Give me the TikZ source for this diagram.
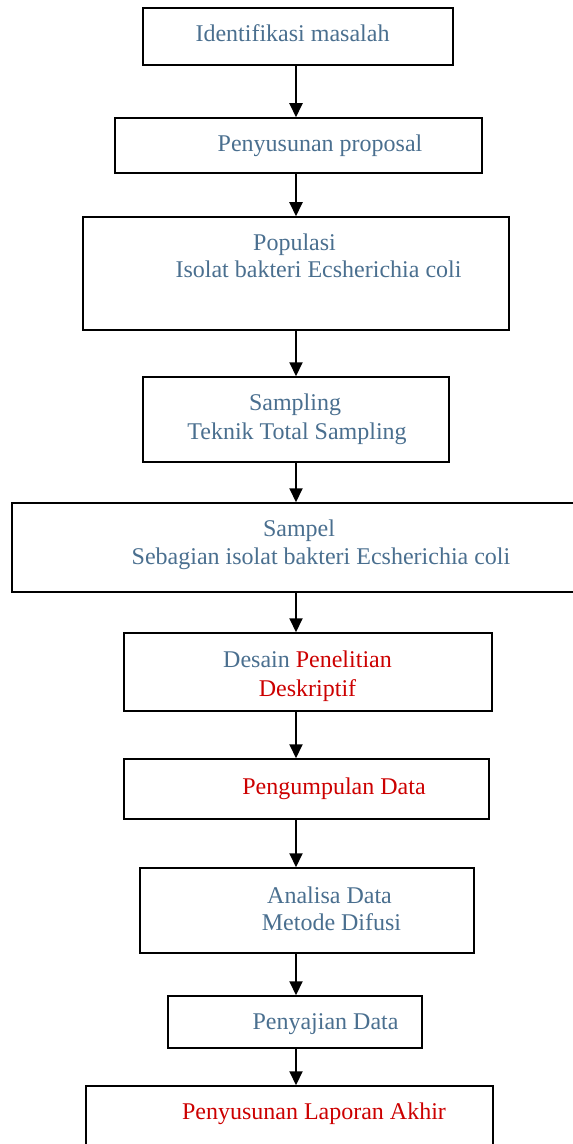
\documentclass[tikz,border=0pt]{standalone}
\usepackage{fontspec}
\setmainfont{Liberation Serif}
\usetikzlibrary{arrows.meta}
\definecolor{tekbiru}{RGB}{74,111,143}
\definecolor{tekmerah}{RGB}{204,0,0}
\tikzset{
  kotak/.style={draw, line width=0.75pt, inner sep=0pt},
  teks/.style={anchor=base, inner sep=0pt, text=tekbiru, font=\fontsize{12}{14}\selectfont},
  panah/.style={line width=1pt, -{Triangle[length=7pt,width=6.5pt]}}
}
\begin{document}
\begin{tikzpicture}[x=0.5pt, y=-0.5pt]
      \useasboundingbox (0,0) rectangle (572,1144);
      \node[kotak, minimum width=155pt, minimum height=28.5pt] (idf) at (298,36.5) {};
      \node[kotak, minimum width=183.5pt, minimum height=27.5pt] (prop) at (298.5,145.5) {};
      \node[kotak, minimum width=213pt, minimum height=56.5pt] (pop) at (296,273.5) {};
      \node[kotak, minimum width=153pt, minimum height=42.5pt] (sampling) at (296,419.5) {};
      \node[kotak, minimum width=284pt, minimum height=44.5pt] (sampel) at (296,547.5) {};
      \node[kotak, minimum width=184pt, minimum height=39pt] (desain) at (308,672) {};
      \node[kotak, minimum width=182.5pt, minimum height=30pt] (kumpul) at (306.5,789) {};
      \node[kotak, minimum width=167pt, minimum height=42.5pt] (analisa) at (307,910.5) {};
      \node[kotak, minimum width=127pt, minimum height=26pt] (saji) at (295,1022) {};
      \node[kotak, minimum width=203.5pt, minimum height=37pt] (lapor) at (289.5,1123) {};
      \node[teks] (idf-t) at (292.5,42) {Identifikasi masalah};
      \node[teks] (prop-t) at (320,152) {Penyusunan proposal};
      \node[teks] (pop-t1) at (294.5,250.5) {Populasi};
      \node[teks] (pop-t2) at (318.5,278) {Isolat bakteri Ecsherichia coli};
      \node[teks] (sampling-t1) at (295,410) {Sampling};
      \node[teks] (sampling-t2) at (297,439) {Teknik Total Sampling};
      \node[teks] (sampel-t1) at (299,536.5) {Sampel};
      \node[teks] (sampel-t2) at (321,564) {Sebagian isolat bakteri Ecsherichia coli};
      \node[teks] (desain-t1) at (307.5,667) {Desain \textcolor{tekmerah}{Penelitian}};
      \node[teks, text=tekmerah] (desain-t2) at (307.5,696) {Deskriptif};
      \node[teks, text=tekmerah] (kumpul-t) at (334,794) {Pengumpulan Data};
      \node[teks] (analisa-t1) at (329.5,903) {Analisa Data};
      \node[teks] (analisa-t2) at (331.5,930) {Metode Difusi};
      \node[teks] (saji-t) at (325.5,1029) {Penyajian Data};
      \node[teks, text=tekmerah] (lapor-t) at (314,1119) {Penyusunan Laporan Akhir};
      \coordinate (sumbu) at (296,0);
      \foreach \a/\b in {idf/prop, prop/pop, pop/sampling, sampling/sampel, sampel/desain,
                         desain/kumpul, kumpul/analisa, analisa/saji, saji/lapor}
        \draw[panah] (\a.south -| sumbu) -- (\b.north -| sumbu);
    \end{tikzpicture}
\end{document}
